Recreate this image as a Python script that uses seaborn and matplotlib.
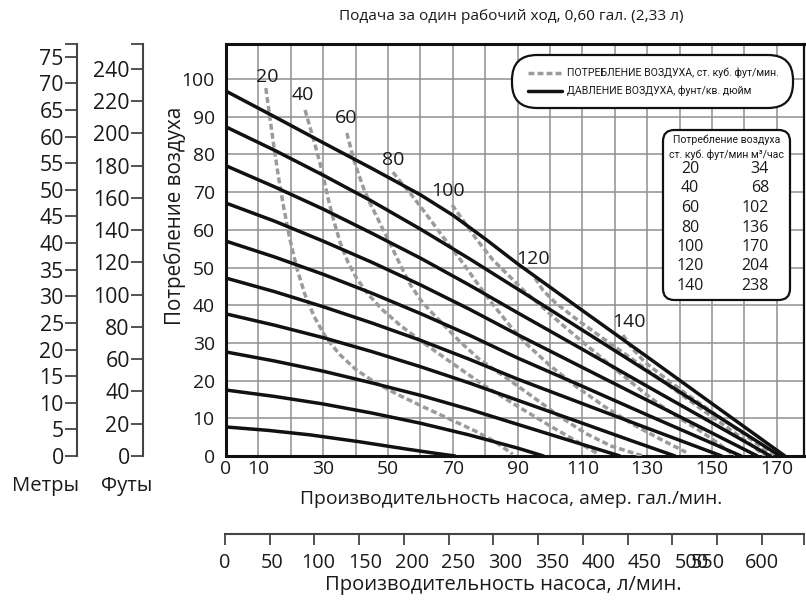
import matplotlib
matplotlib.use("Agg")
import matplotlib.pyplot as plt
import matplotlib.transforms as mtransforms
from matplotlib.patches import FancyBboxPatch
from matplotlib.lines import Line2D
import seaborn as sns

# ---- data -------------------------------------------------------------
# air pressure curves (psi): flow, gpm  vs  discharge pressure, psi
p100_x = [0, 15, 30, 45, 60, 70, 80, 90, 110, 130, 150, 172.5]
p100_y = [96.8, 90.0, 83.1, 76.3, 69.3, 63.9, 57.6, 51.0, 38.6, 26.3, 13.9, 0]
p90_x = [0, 15, 30, 45, 60, 75, 90, 110, 130, 150, 171]
p90_y = [87.3, 81.1, 74.5, 67.6, 60.2, 52.4, 44.3, 33.4, 22.5, 11.5, 0]
p80_x = [0, 15, 30, 45, 60, 75, 90, 110, 130, 150, 168]
p80_y = [77.0, 71.4, 65.5, 59.1, 52.5, 45.4, 38.0, 28.3, 18.5, 8.8, 0]
p70_x = [0, 15, 30, 45, 60, 75, 90, 110, 130, 150, 164]
p70_y = [67.1, 62.3, 57.0, 51.4, 45.4, 39.0, 32.2, 23.5, 14.8, 6.1, 0]
p60_x = [0, 15, 30, 45, 60, 75, 90, 110, 130, 150, 159]
p60_y = [57.0, 52.8, 48.2, 43.2, 37.8, 32.1, 26.0, 18.5, 10.9, 3.4, 0]
p50_x = [0, 15, 30, 45, 60, 75, 90, 110, 130, 153]
p50_y = [47.2, 43.6, 39.6, 35.3, 30.7, 25.7, 20.4, 13.9, 7.4, 0]
p40_x = [0, 15, 30, 45, 60, 75, 90, 110, 125, 138.6]
p40_y = [37.7, 34.7, 31.4, 27.7, 23.7, 19.4, 14.8, 8.7, 4.1, 0]
p30_x = [0, 15, 30, 45, 60, 75, 90, 105, 121.6]
p30_y = [27.6, 25.2, 22.5, 19.4, 16.1, 12.4, 8.4, 4.4, 0]
p20_x = [0, 15, 30, 45, 60, 75, 90, 98]
p20_y = [17.5, 15.8, 13.8, 11.4, 8.7, 5.6, 2.1, 0]
p10_x = [0, 13, 26, 41, 56, 64, 70.7]
p10_y = [7.7, 6.8, 5.6, 3.8, 1.8, 0.8, 0]

# air consumption curves (scfm)
c20_x = [12.3, 13.5, 14.8, 16.2, 17.8, 19.6, 21.8, 24.3, 27.2, 30.8, 35, 40,
         46, 53, 61, 69, 77, 83, 88.5]
c20_y = [97.6, 90, 82, 74, 66, 58, 50, 43, 37, 31.5, 27, 23,
         19.5, 16.3, 13, 9.8, 6.6, 3.8, 0.5]
c40_x = [24.4, 25.9, 27.5, 29, 30.3, 31.6, 33.4, 35.3, 37.6, 40.4, 43.8, 48,
         54, 61, 70, 80, 90, 100, 108, 115]
c40_y = [91.8, 87.3, 82.5, 77.7, 73, 68, 62, 56.5, 51.5, 47, 43, 39,
         34.5, 30, 24.5, 18.5, 13.2, 8, 4, 0.5]
c60_x = [37.3, 39.2, 40.7, 42.3, 44.3, 46.6, 48.5, 50.6, 52.5, 54.6, 57, 60,
         63, 67, 72, 78, 87.7, 95, 103, 111, 119, 128.7]
c60_y = [85.7, 79.3, 75.3, 71.4, 67.3, 63.4, 60, 56.5, 53, 49.3, 45.3, 41.5,
         38.5, 35, 30.5, 25.8, 20, 15.5, 10.5, 6, 2.6, 0]
c80_x = [51.5, 54, 56.8, 60.8, 64, 67, 70, 73.1, 77.5, 82, 87.7, 93, 100,
         108, 117, 126, 134, 142]
c80_y = [75.3, 72.6, 69.8, 65.3, 61.6, 58.1, 54.7, 51.2, 45.9, 40.6, 34.5,
         29.5, 24, 18.5, 13, 8.2, 4.5, 1]
c100_x = [69.8, 73.1, 77.5, 82.4, 87.7, 92, 97, 103, 109.3, 116, 121.6, 128,
          134, 140, 146.3, 152, 157]
c100_y = [66.6, 62.6, 57.3, 52, 47.5, 43.8, 40, 35.4, 30.8, 26, 22, 17.5,
          13.5, 10, 6.7, 3.3, 0]
c120_x = [95.4, 97.8, 101.5, 107.7, 115.4, 123.1, 130.9, 138.6, 146.3, 154.0,
          161.7, 166.4]
c120_y = [47.2, 44.0, 40.8, 36.6, 31.8, 27.1, 22.3, 17.5, 12.7, 8.0, 3.2, 0]
c140_x = [122.5, 125.3, 129.3, 135.5, 141.7, 147.8, 154.0, 160.2, 166.4, 168.8]
c140_y = [32.1, 28.6, 24.9, 20.7, 16.7, 13.0, 9.3, 5.6, 1.6, 0]

scfm_levels = [20, 40, 60, 80, 100, 120, 140]
m3h_levels = [34, 68, 102, 136, 170, 204, 238]
scfm_label_x = [12.6, 23.8, 37, 51.5, 68.5, 94.8, 124.4]
scfm_label_y = [100.5, 95.8, 89.8, 78.6, 70.3, 52.3, 35.6]

gpm_ticks = [0, 10, 30, 50, 70, 90, 110, 130, 150, 170]
psi_ticks = list(range(0, 101, 10))
metre_ticks = list(range(0, 76, 5))
feet_ticks = list(range(0, 241, 20))
lpm_ticks = list(range(0, 601, 50))

title = "Подача за один рабочий ход, 0,60 гал. (2,33 л)"

# ---- figure ----------------------------------------------------------
sns.set_theme(style="white")
plt.rcParams["font.family"] = ["Open Sans", "DejaVu Sans"]
W, H = 806, 600
fig = plt.figure(figsize=(W / 100, H / 100), dpi=100)
INK = "#1a1a1a"


def fx(px):
    return px / W


def fy(py):
    return 1 - py / H


ax = fig.add_axes([fx(226), fy(456), fx(804) - fx(226), fy(44) - fy(456)])
ax.set_xlim(0, 178.4)
ax.set_ylim(0, 109.3)

GRID = "#8f8f8f"
for gx in range(10, 180, 10):
    ax.axvline(gx, color=GRID, lw=1.1, zorder=1)
for gy in range(10, 110, 10):
    ax.axhline(gy, color=GRID, lw=1.1, zorder=1)

ax.set_xticks(gpm_ticks)
ax.set_xticklabels([str(t) for t in gpm_ticks])
ax.set_yticks(psi_ticks)
ax.set_yticklabels([str(t) for t in psi_ticks])
ax.tick_params(axis="both", length=0, labelsize=13.9, colors=INK)
ax.tick_params(axis="x", pad=3)
ax.tick_params(axis="y", pad=8)
for side in ["left", "top", "right", "bottom"]:
    ax.spines[side].set_visible(True)
    ax.spines[side].set_color("#111111")
ax.spines["left"].set_linewidth(2.2)
ax.spines["top"].set_linewidth(2.2)
ax.spines["bottom"].set_linewidth(2.2)
ax.spines["right"].set_linewidth(1.6)

DASH = "#9b9b9b"
DASH_STYLE = (0, (1.7, 0.9))
cons_curves = [(c20_x, c20_y), (c40_x, c40_y), (c60_x, c60_y), (c80_x, c80_y),
               (c100_x, c100_y), (c120_x, c120_y), (c140_x, c140_y)]
for cx, cy in cons_curves:
    sns.lineplot(x=cx, y=cy, ax=ax, color=DASH, lw=2.5, sort=False,
                 estimator=None, zorder=3, linestyle=DASH_STYLE)

press_curves = [(p100_x, p100_y), (p90_x, p90_y), (p80_x, p80_y), (p70_x, p70_y),
                (p60_x, p60_y), (p50_x, p50_y), (p40_x, p40_y), (p30_x, p30_y),
                (p20_x, p20_y), (p10_x, p10_y)]
for px_, py_ in press_curves:
    sns.lineplot(x=px_, y=py_, ax=ax, color="#111111", lw=2.5, sort=False,
                 estimator=None, zorder=4)
for ln in ax.lines:
    ln.set_solid_joinstyle("round")
    ln.set_dash_joinstyle("round")

for lvl, lx, ly in zip(scfm_levels, scfm_label_x, scfm_label_y):
    ax.text(lx, ly, str(lvl), ha="center", va="center", fontsize=14,
            color=INK, zorder=5)

ax.set_xlabel("")
ax.set_ylabel("")

# legend capsule
narrow = ["Roboto", "DejaVu Sans"]
leg = FancyBboxPatch((fx(512), fy(108)), fx(793) - fx(512), fy(55) - fy(108),
                     boxstyle="round,pad=0.0,rounding_size=0.031",
                     transform=fig.transFigure, fc="white", ec="#111111", lw=1.6,
                     zorder=10, mutation_aspect=W / H)
fig.patches.append(leg)
fig.add_artist(Line2D([fx(528), fx(562)], [fy(73), fy(73)], color=DASH, lw=2.5,
                      linestyle=DASH_STYLE, transform=fig.transFigure, zorder=11))
fig.add_artist(Line2D([fx(528), fx(562)], [fy(91), fy(91)], color="#111111", lw=2.5,
                      transform=fig.transFigure, zorder=11))
fig.text(fx(567), fy(73), "ПОТРЕБЛЕНИЕ ВОЗДУХА, ст. куб. фут/мин.", ha="left",
         va="center", fontsize=7.6, family=narrow, color=INK, zorder=12)
fig.text(fx(567), fy(91), "ДАВЛЕНИЕ ВОЗДУХА, фунт/кв. дюйм", ha="left",
         va="center", fontsize=7.6, family=narrow, color=INK, zorder=12)

# conversion table
tbl = FancyBboxPatch((fx(663), fy(300)), fx(790) - fx(663), fy(130) - fy(300),
                     boxstyle="round,pad=0.0,rounding_size=0.014",
                     transform=fig.transFigure, fc="white", ec="#111111", lw=1.6,
                     zorder=10, mutation_aspect=W / H)
fig.patches.append(tbl)
fig.text(fx(726.5), fy(140), "Потребление воздуха", ha="center", va="center",
         fontsize=7.6, family=narrow, color=INK, zorder=12)
fig.text(fx(726.5), fy(155), "ст. куб. фут/мин м³/час", ha="center", va="center",
         fontsize=7.6, family=narrow, color=INK, zorder=12)
for i, (a, b) in enumerate(zip(scfm_levels, m3h_levels)):
    yy = 169 + i * 19.5
    fig.text(fx(690), fy(yy), str(a), ha="center", va="center", fontsize=11.5,
             color=INK, zorder=12)
    fig.text(fx(769), fy(yy), str(b), ha="right", va="center", fontsize=11.5,
             color=INK, zorder=12)


# head scales (metres / feet)
def head_axis(xpix, top, ticks):
    a = fig.add_axes([fx(xpix), fy(456), 0.0005, fy(44) - fy(456)])
    a.set_ylim(0, top)
    a.set_xticks([])
    a.set_yticks(ticks + [top])
    a.set_yticklabels([str(t) for t in ticks] + [""])
    for side in ["top", "right", "bottom"]:
        a.spines[side].set_visible(False)
    a.spines["left"].set_color("#444444")
    a.spines["left"].set_linewidth(1.5)
    a.tick_params(axis="y", direction="out", length=8.5, width=1.3,
                  labelsize=15.3, pad=1, left=True, colors=INK)
    a.tick_params(axis="y", color="#444444")
    a.patch.set_alpha(0)
    return a


head_axis(77, 77.4, metre_ticks)
head_axis(143, 255.5, feet_ticks)

# litres per minute scale
axl = fig.add_axes([fx(225), fy(534), fx(804) - fx(225), 0.0005])
axl.set_xlim(0, 647)
axl.set_yticks([])
for side in ["top", "right", "left"]:
    axl.spines[side].set_visible(False)
axl.spines["bottom"].set_color("#444444")
axl.spines["bottom"].set_linewidth(1.5)
axl.set_xticks(lpm_ticks + [647])
axl.set_xticklabels([""] * (len(lpm_ticks) + 1))
axl.tick_params(axis="x", direction="out", length=8, width=1.3, color="#444444",
                bottom=True)
axl.patch.set_alpha(0)
lbl_tr = mtransforms.offset_copy(axl.get_xaxis_transform(), fig=fig, x=0, y=-29,
                                 units="dots")
for v in lpm_ticks:
    pos = v * 1.043 if v <= 500 else (539.5 if v == 550 else v)
    axl.text(pos, 0, str(v), transform=lbl_tr, ha="center", va="center",
             fontsize=14.3, color=INK)

# titles and axis captions
fig.text(fx(511), fy(16), title, ha="center", va="center", fontsize=11.1,
         color=INK)
fig.text(fx(511), fy(499), "Производительность насоса, амер. гал./мин.",
         ha="center", va="center", fontsize=13.9, color=INK)
fig.text(fx(503), fy(585), "Производительность насоса, л/мин.",
         ha="center", va="center", fontsize=14.5, color=INK)
fig.text(fx(175), fy(216), "Потребление воздуха", ha="center", va="center",
         rotation=90, fontsize=14.9, color=INK)
fig.text(fx(46), fy(486), "Метры", ha="center", va="center", fontsize=14.6,
         color=INK)
fig.text(fx(127), fy(486), "Футы", ha="center", va="center", fontsize=14.6,
         color=INK)

fig.savefig("out.png", dpi=100)
